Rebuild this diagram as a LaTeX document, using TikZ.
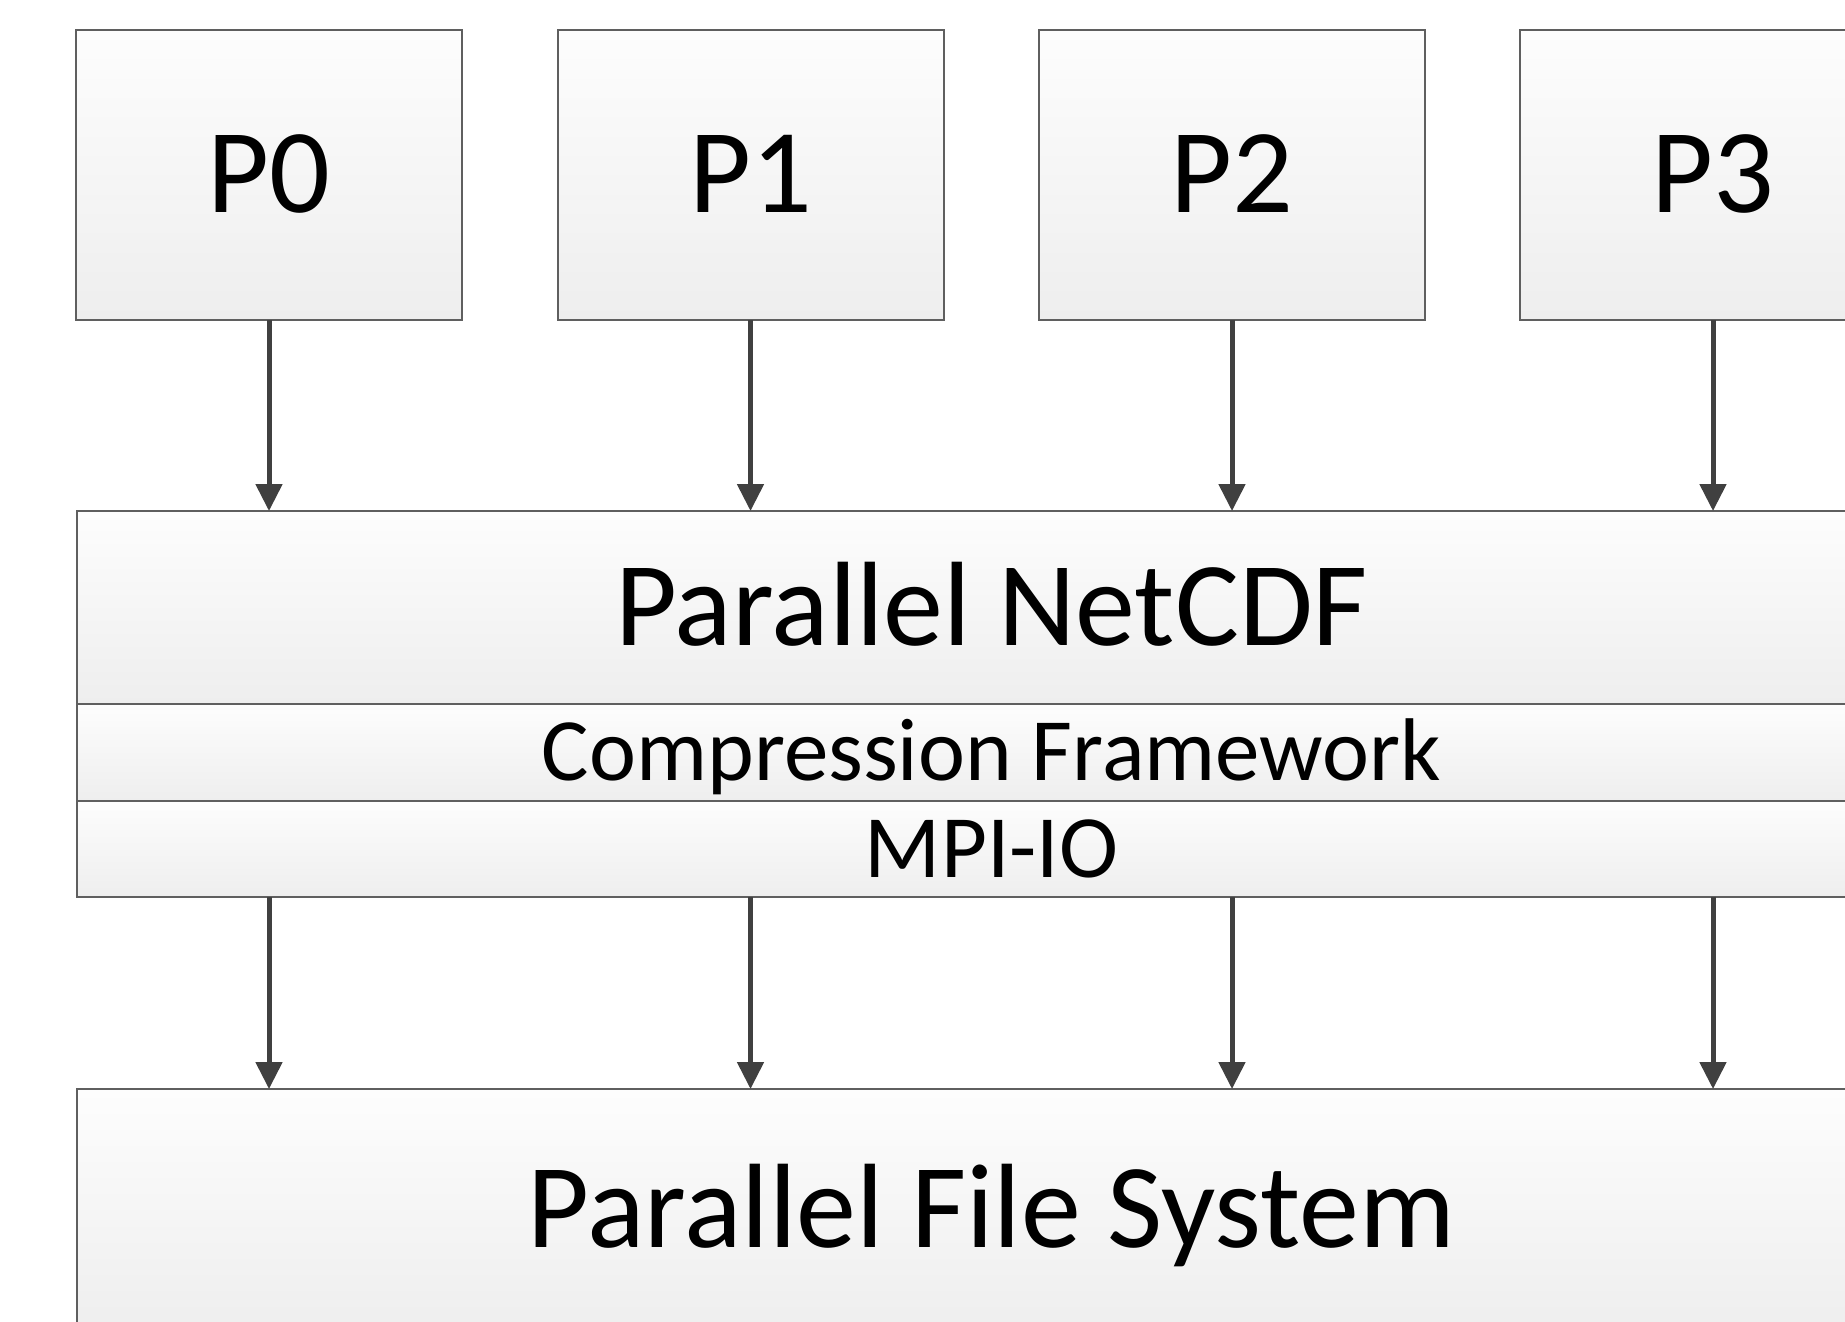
\documentclass[tikz,border=0pt]{standalone}
\usepackage{fontspec}
\setmainfont{Carlito}
\usetikzlibrary{arrows.meta}
\definecolor{bordergray}{RGB}{95,95,95}
\definecolor{arrowgray}{RGB}{64,64,64}
\definecolor{topg}{RGB}{253,253,253}
\definecolor{botg}{RGB}{238,238,238}
\tikzset{
  box/.style={draw=bordergray, line width=2pt, top color=topg, bottom color=botg, inner sep=0pt, outer sep=0pt, anchor=center},
  bigtext/.style={font=\fontsize{120}{130}\selectfont, text height=75.5pt, text depth=0pt},
  smalltext/.style={font=\fontsize{89}{100}\selectfont, text height=56.2pt, text depth=0pt},
  arr/.style={draw=arrowgray, line width=5pt, -{Triangle[length=27pt,width=26pt]}}
}
\begin{document}
\begin{tikzpicture}[x=1pt,y=-1pt]
\useasboundingbox (0,0) rectangle (1845,1322);
\fill[white] (0,0) rectangle (1845,1322);
\clip (0,0) rectangle (1845,1322);
% process boxes
\node[box,bigtext,minimum width=386pt,minimum height=290pt] (p0) at (269,175) {P0};
\node[box,bigtext,minimum width=386pt,minimum height=290pt] (p1) at (750.5,175) {P1};
\node[box,bigtext,minimum width=386pt,minimum height=290pt] (p2) at (1232,175) {P2};
\node[box,bigtext,minimum width=386pt,minimum height=290pt] (p3) at (1713,175) {P3};
% layers
\node[box,bigtext,minimum width=1829pt,minimum height=193pt] (ncdf) at (991.5,607.5) {Parallel NetCDF};
\node[box,smalltext,minimum width=1829pt,minimum height=97pt] (cf) at (991.5,752.5) {Compression Framework};
\node[box,smalltext,minimum width=1829pt,minimum height=96pt] (mpi) at (991.5,849) {MPI-IO};
\node[box,bigtext,minimum width=1829pt,minimum height=242pt] (pfs) at (991.5,1210) {Parallel File System};
% arrows
\foreach \p in {p0,p1,p2,p3}{
  \draw[arr] (\p.south) -- (\p.south |- ncdf.north);
  \draw[arr] (\p.south |- mpi.south) -- (\p.south |- pfs.north);
}
\end{tikzpicture}
\end{document}
